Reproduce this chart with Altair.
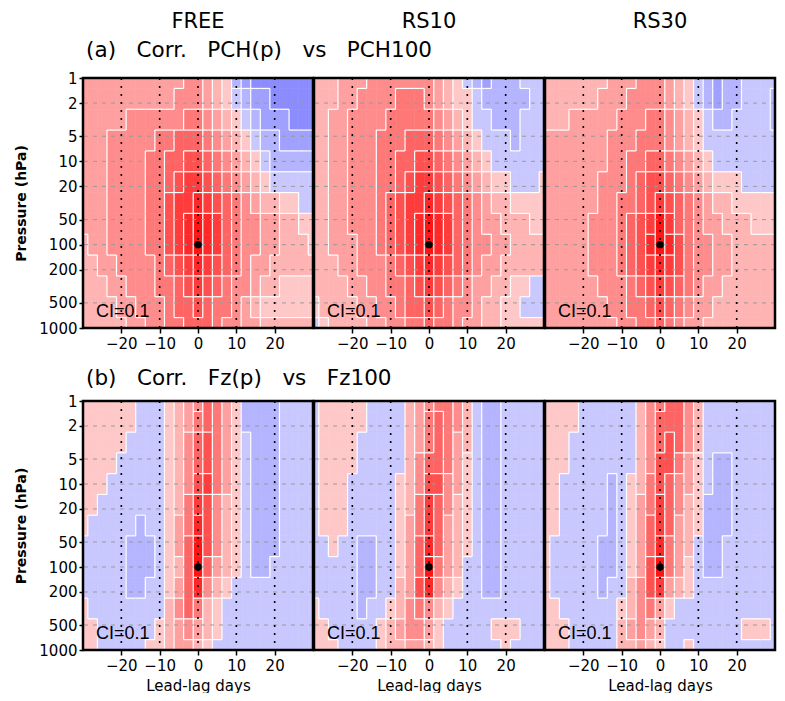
import math
import altair as alt
import pandas as pd

# ---------------- grid definition (cell centres) ----------------
LAG_CENTERS = [-30, -27.5, -25, -22.5, -20, -17.5, -15, -12.5, -10, -7.5, -5, -2.5, 0,
               2.5, 5, 7.5, 10, 12.5, 15, 17.5, 20, 22.5, 25, 27.5, 30]
P_CENTERS = [1, 1.78, 3.16, 5.62, 10, 17.8, 31.6, 56.2, 100, 178, 316, 562, 1000]

GAP = "\u00a0" * 3
PANEL_NAMES = ["FREE", "RS10", "RS30"]
ROW_TITLES = [GAP.join(["(a)", "Corr.", "PCH(p)", "vs", "PCH100"]),
              GAP.join(["(b)", "Corr.", "Fz(p)", "vs", "Fz100"])]
LAG_LINES = [-20, -10, 0, 10, 20]
P_LINES = [2, 5, 10, 20, 50, 100, 200, 500]
P_TICKS = [1, 2, 5, 10, 20, 50, 100, 200, 500, 1000]
REF_LAG = [0]
REF_P = [100]
CI_LAG = [-26.6]
CI_P = [740]
CI_TEXT = ["CI=0.1"]
FRAME = {"x0": [-30], "x1": [30], "y0": [1], "y1": [1000]}
# annotation anchors, in data units (lag, hPa); pressures < 1 sit above the panel
NAME_POS = (0, 0.251)
ROW_TITLE_POS = [(-29.2, 0.56), (-29.2, 0.641)]

# contour band of the correlation (tenths): 3 -> 0.3..0.4, -1 -> -0.1..0
BAND_LEVELS = [-4, -3, -2, -1, 0, 1, 2, 3, 4, 5, 6, 7, 8, 9]
BAND_COLORS = ["#8c8cff", "#a0a0ff", "#b4b4ff", "#c8c8ff",
               "#ffc8c8", "#ffb4b4", "#ffa0a0", "#ff8c8c", "#ff7878",
               "#ff6464", "#ff5050", "#ff3c3c", "#ff2828", "#ff1414"]

A_FREE = [
    [2, 2, 2, 2, 2, 2, 2, 2, 2, 2, 2, 3, 3, 2, 1, 0, -2, -3, -4, -4, -4, -4, -4, -4, -4],
    [2, 2, 2, 2, 2, 2, 2, 2, 2, 2, 3, 3, 3, 2, 1, 0, -1, -2, -3, -3, -4, -4, -4, -4, -4],
    [2, 2, 2, 2, 2, 3, 3, 3, 3, 3, 3, 4, 4, 3, 2, 1, 0, -1, -2, -3, -3, -3, -4, -4, -4],
    [2, 2, 2, 3, 3, 3, 3, 3, 4, 4, 5, 5, 5, 4, 3, 2, 1, 0, -1, -2, -2, -3, -3, -3, -3],
    [2, 2, 2, 3, 3, 3, 3, 4, 4, 5, 5, 6, 6, 5, 4, 3, 2, 1, 0, -1, -2, -2, -2, -2, -2],
    [2, 2, 2, 3, 3, 3, 3, 4, 4, 5, 6, 7, 7, 6, 5, 4, 3, 2, 1, 0, -1, -1, -1, -1, -1],
    [2, 2, 2, 3, 3, 3, 3, 4, 4, 6, 7, 7, 8, 7, 6, 5, 4, 3, 2, 1, 1, 0, 0, -1, -1],
    [2, 2, 2, 3, 3, 3, 3, 4, 4, 6, 7, 8, 9, 8, 7, 5, 4, 3, 3, 2, 2, 1, 1, 0, 0],
    [1, 2, 2, 3, 3, 3, 3, 4, 4, 6, 7, 8, 9, 8, 7, 5, 4, 3, 3, 2, 2, 1, 1, 1, 0],
    [1, 1, 2, 2, 3, 3, 3, 3, 4, 5, 6, 7, 8, 7, 6, 5, 4, 3, 2, 2, 1, 1, 1, 1, 1],
    [1, 1, 1, 2, 2, 3, 3, 3, 4, 4, 5, 6, 7, 6, 5, 4, 3, 3, 2, 1, 1, 0, 0, 0, 0],
    [1, 1, 1, 1, 2, 2, 3, 3, 3, 4, 5, 5, 6, 5, 4, 4, 3, 2, 1, 0, 0, 0, 0, 0, 0],
    [1, 1, 1, 1, 1, 2, 2, 3, 3, 4, 4, 5, 5, 5, 4, 3, 3, 2, 2, 1, 1, 1, 1, 1, 1],
]
A_RS10 = [
    [1, 1, 1, 2, 2, 2, 3, 3, 3, 3, 3, 3, 3, 2, 1, 0, -1, -2, -3, -2, -2, -2, -1, -1, -1],
    [1, 1, 1, 2, 2, 3, 3, 3, 3, 4, 4, 4, 3, 2, 1, 0, 0, -1, -2, -2, -2, -2, -2, -1, -1],
    [1, 1, 2, 2, 3, 3, 3, 3, 4, 4, 4, 4, 4, 3, 2, 1, 0, -1, -1, -2, -2, -2, -1, -1, -1],
    [1, 1, 2, 2, 3, 3, 3, 4, 4, 4, 5, 5, 5, 4, 3, 2, 1, 0, -1, -1, -1, -2, -1, -1, -1],
    [1, 1, 2, 2, 3, 3, 3, 4, 4, 5, 5, 6, 6, 5, 4, 3, 2, 1, 0, -1, -1, -1, -1, -1, -1],
    [1, 1, 2, 2, 3, 3, 3, 4, 4, 5, 6, 7, 7, 6, 5, 4, 3, 2, 1, 0, 0, -1, -1, -1, 0],
    [1, 1, 2, 2, 3, 3, 3, 4, 5, 6, 7, 7, 8, 7, 6, 5, 4, 3, 2, 1, 1, 0, 0, 0, 0],
    [1, 1, 2, 2, 3, 3, 3, 4, 5, 6, 7, 8, 9, 8, 7, 5, 4, 3, 2, 2, 1, 1, 1, 0, 0],
    [1, 1, 2, 2, 2, 3, 3, 4, 5, 6, 7, 8, 9, 8, 7, 5, 4, 3, 3, 2, 2, 1, 1, 1, 1],
    [1, 1, 1, 2, 2, 3, 3, 3, 4, 5, 6, 7, 8, 7, 6, 5, 4, 3, 2, 2, 1, 1, 1, 1, 1],
    [1, 1, 1, 1, 2, 2, 3, 3, 4, 4, 5, 6, 7, 6, 5, 4, 3, 2, 2, 1, 1, 0, 0, -1, -1],
    [0, 1, 1, 1, 1, 2, 2, 3, 3, 4, 5, 5, 6, 5, 4, 3, 3, 2, 1, 1, 0, 0, -1, -1, -1],
    [-1, 0, 1, 1, 1, 1, 2, 2, 3, 3, 4, 4, 5, 4, 4, 3, 2, 2, 1, 1, 0, 0, 0, 0, 0],
]
A_RS30 = [
    [1, 1, 1, 1, 1, 1, 1, 2, 2, 2, 3, 3, 3, 2, 1, 0, -1, -2, -3, -2, -2, -1, -1, -1, -1],
    [1, 1, 1, 1, 1, 1, 2, 2, 2, 3, 3, 3, 3, 2, 1, 0, -1, -2, -3, -2, -2, -1, -1, -1, -2],
    [1, 1, 1, 2, 2, 2, 2, 2, 3, 3, 3, 4, 4, 3, 2, 1, 0, -1, -2, -2, -1, -1, -1, -1, -2],
    [2, 2, 2, 2, 2, 2, 2, 3, 3, 3, 4, 4, 4, 3, 2, 1, 0, -1, -1, -1, -1, -1, -1, -1, -1],
    [2, 2, 2, 2, 2, 2, 2, 3, 3, 4, 4, 5, 5, 4, 3, 2, 1, 0, -1, -1, -1, -1, -1, -1, -1],
    [2, 2, 2, 2, 2, 2, 3, 3, 3, 4, 5, 6, 6, 5, 4, 3, 2, 1, 0, 0, 0, -1, -1, -1, -1],
    [2, 2, 2, 2, 2, 2, 3, 3, 4, 4, 5, 6, 7, 6, 5, 4, 3, 2, 1, 1, 0, 0, 0, 0, 0],
    [2, 2, 2, 2, 2, 3, 3, 3, 4, 5, 6, 7, 9, 7, 5, 4, 3, 2, 2, 1, 1, 1, 0, 0, 0],
    [2, 2, 2, 2, 2, 3, 3, 3, 4, 5, 6, 8, 9, 8, 6, 4, 3, 3, 2, 2, 1, 1, 1, 1, 1],
    [2, 2, 2, 2, 2, 3, 3, 3, 4, 5, 6, 7, 8, 7, 6, 4, 3, 3, 2, 2, 1, 1, 1, 1, 1],
    [2, 2, 2, 2, 2, 2, 3, 3, 3, 4, 5, 6, 7, 6, 5, 4, 3, 2, 2, 1, 1, 1, 1, 1, 1],
    [2, 2, 2, 2, 2, 2, 2, 3, 3, 4, 4, 5, 6, 5, 4, 3, 2, 2, 1, 1, 1, 1, 1, 1, 1],
    [2, 2, 2, 2, 2, 2, 2, 2, 3, 3, 4, 4, 5, 4, 3, 2, 2, 1, 1, 1, 1, 1, 1, 1, 1],
]
B_FREE = [
    [0, 0, 0, 0, 0, 0, -1, -1, -1, 0, 1, 2, 3, 5, 4, 2, 0, -2, -2, -2, -2, -1, -1, -1, -1],
    [0, 0, 0, 0, 0, 0, -1, -1, -1, 0, 1, 2, 4, 5, 4, 2, 0, -2, -2, -2, -2, -1, -1, -1, -1],
    [0, 0, 0, 0, 0, -1, -1, -1, -1, 0, 1, 3, 5, 6, 4, 2, 0, -1, -2, -2, -2, -1, -1, -1, -1],
    [0, 0, 0, 0, -1, -1, -1, -1, -1, 0, 1, 3, 5, 6, 4, 2, 0, -1, -2, -2, -2, -1, -1, -1, -1],
    [0, 0, 0, -1, -1, -1, -1, -1, -1, 0, 1, 3, 6, 7, 4, 2, 0, -1, -2, -2, -2, -1, -1, -1, -1],
    [0, 0, -1, -1, -1, -1, -1, -1, -1, 0, 1, 4, 7, 6, 3, 1, 0, -1, -2, -2, -2, -1, -1, -1, -1],
    [0, -1, -1, -1, -1, -1, -2, -1, -1, 0, 2, 4, 8, 6, 3, 1, 0, -1, -2, -2, -2, -1, -1, -1, -1],
    [-1, -1, -1, -1, -1, -2, -2, -2, -1, 0, 2, 5, 9, 6, 3, 1, 0, -1, -2, -2, -2, -1, -1, -1, -1],
    [-1, -1, -1, -1, -1, -2, -2, -2, -1, 0, 1, 5, 9, 5, 2, 1, 0, -1, -2, -2, -1, -1, -1, -1, -1],
    [-1, -1, -1, -1, -1, -2, -2, -1, -1, 0, 2, 5, 8, 3, 1, 0, -1, -1, -1, -1, -1, -1, -1, -1, -1],
    [0, -1, -1, -1, -1, -1, -1, -1, -1, 1, 3, 5, 4, 1, 0, -1, -1, -1, -1, -1, -1, -1, -1, -1, -1],
    [0, 0, -1, -1, -1, -1, -1, -1, 0, 1, 2, 3, 2, 1, 0, -1, -1, -1, -1, -1, -1, -1, -1, -1, -1],
    [0, 0, -1, -1, -1, -1, -1, 0, 0, 1, 2, 2, 1, 0, -1, -1, -1, -1, -1, -1, -1, -1, -1, -1, -1],
]
B_RS10 = [
    [-1, 0, 0, 0, 0, 0, -1, -1, -1, -1, 1, 2, 3, 4, 4, 3, 1, -1, -2, -2, -1, -1, -1, -1, -1],
    [-1, 0, 0, 0, 0, 0, -1, -1, -1, -1, 1, 2, 4, 5, 4, 3, 1, -1, -2, -2, -1, -1, -1, -1, -1],
    [-1, 0, 0, 0, 0, -1, -1, -1, -1, -1, 1, 2, 4, 5, 4, 2, 1, -1, -2, -2, -1, -1, -1, -1, -1],
    [-1, 0, 0, 0, 0, -1, -1, -1, -1, -1, 1, 3, 5, 5, 4, 2, 0, -1, -2, -2, -1, -1, -1, -1, -1],
    [-1, 0, 0, 0, -1, -1, -1, -1, -1, 0, 1, 3, 6, 6, 3, 2, 0, -1, -2, -2, -1, -1, -1, -1, -1],
    [-1, 0, 0, 0, -1, -1, -1, -1, -1, 0, 1, 4, 7, 5, 3, 1, 0, -1, -2, -2, -1, -1, -1, -1, -1],
    [-1, 0, 0, 0, -1, -1, -1, -1, -1, 0, 2, 4, 7, 5, 2, 1, 0, -1, -2, -2, -1, -1, -1, -1, -1],
    [-1, -1, 0, -1, -1, -2, -2, -1, -1, 0, 2, 5, 8, 5, 2, 1, 0, -1, -2, -2, -1, -1, -1, -1, -1],
    [-1, -1, -1, -1, -1, -2, -2, -1, -1, 0, 2, 5, 9, 4, 2, 1, -1, -1, -2, -2, -1, -1, -1, -1, -1],
    [-1, -1, -1, -1, -1, -2, -2, -1, -1, 1, 2, 6, 8, 3, 1, 0, -1, -1, -2, -2, -1, -1, -1, -1, -1],
    [0, -1, -1, -1, -1, -2, -1, -1, 0, 1, 3, 4, 3, 1, 0, -1, -1, -1, -1, -1, -1, -1, -1, -1, -1],
    [0, 0, -1, -1, -1, -1, -1, 0, 1, 2, 3, 3, 2, 0, -1, -1, -1, -1, -1, 0, 0, 0, -1, -1, -1],
    [0, 0, 0, -1, -1, -1, -1, 0, 1, 1, 2, 2, 1, 0, -1, -1, -1, -1, -1, -1, 0, -1, -1, -1, -1],
]
B_RS30 = [
    [0, 0, 0, 0, -1, -1, -1, -1, -1, -1, 1, 3, 4, 5, 5, 3, 1, -1, -1, -1, -1, -1, -1, -1, -1],
    [0, 0, 0, 0, -1, -1, -1, -1, -1, -1, 1, 3, 5, 5, 5, 3, 1, -1, -1, -1, -1, -1, -1, -1, -1],
    [0, 0, 0, -1, -1, -1, -1, -1, -1, -1, 1, 3, 5, 6, 5, 3, 1, -1, -1, -1, -1, -1, -1, -1, -1],
    [0, 0, 0, -1, -1, -1, -1, -1, -1, -1, 1, 3, 6, 6, 4, 2, 0, -1, -2, -2, -1, -1, -1, -1, -1],
    [0, 0, -1, -1, -1, -1, -1, -2, -1, 0, 1, 4, 6, 5, 3, 2, 0, -1, -2, -2, -1, -1, -1, -1, -1],
    [0, 0, -1, -1, -1, -1, -1, -2, -1, 0, 2, 4, 7, 5, 3, 1, 0, -2, -2, -2, -1, -1, -1, -1, -1],
    [0, 0, -1, -1, -1, -1, -1, -2, -1, 0, 2, 5, 7, 5, 2, 1, 0, -2, -2, -2, -1, -1, -1, -1, -1],
    [0, -1, -1, -1, -1, -1, -2, -2, -1, 0, 2, 5, 8, 4, 2, 1, -1, -2, -2, -1, -1, -1, -1, -1, -1],
    [0, -1, -1, -1, -1, -1, -2, -2, -1, 0, 2, 6, 9, 4, 2, 0, -1, -2, -2, -1, -1, -1, -1, -1, -1],
    [0, -1, -1, -1, -1, -1, -2, -1, -1, 1, 3, 6, 7, 2, 1, 0, -1, -1, -1, -1, -1, -1, -1, -1, -1],
    [0, 0, -1, -1, -1, -1, -1, -1, 0, 1, 3, 4, 2, 0, -1, -1, -1, -1, -1, -1, -1, -1, -1, -1, -1],
    [0, 0, 0, -1, -1, -1, -1, -1, 1, 2, 3, 2, 1, -1, -1, -1, -1, -1, -1, -1, -1, 0, 0, 0, -1],
    [0, 0, 0, -1, -1, -1, -1, -1, 1, 1, 2, 1, 0, -1, -1, 0, -1, -1, -1, -1, -1, -1, -1, -1, -1],
]
GRIDS = [[A_FREE, A_RS10, A_RS30], [B_FREE, B_RS10, B_RS30]]

# ---------------- cell edges ----------------
LAG_EDGES = [-30] + [(a + b) / 2 for a, b in zip(LAG_CENTERS[:-1], LAG_CENTERS[1:])] + [30]
P_EDGES = [1] + [math.sqrt(a * b) for a, b in zip(P_CENTERS[:-1], P_CENTERS[1:])] + [1000]
NR, NC = len(P_CENTERS), len(LAG_CENTERS)
for rowg in GRIDS:
    for g in rowg:
        assert len(g) == NR and all(len(r) == NC for r in g), "grid size"


def cell_frame(grid):
    recs = []
    for i in range(NR):
        for j in range(NC):
            recs.append({"x0": LAG_EDGES[j], "x1": LAG_EDGES[j + 1],
                         "y0": P_EDGES[i], "y1": P_EDGES[i + 1], "band": grid[i][j]})
    return pd.DataFrame(recs)


def contour_frame(grid):
    segs = []
    for i in range(NR):
        for j in range(NC - 1):
            if grid[i][j] != grid[i][j + 1]:
                x = LAG_EDGES[j + 1]
                segs.append({"x0": x, "x1": x, "y0": P_EDGES[i], "y1": P_EDGES[i + 1]})
    for i in range(NR - 1):
        for j in range(NC):
            if grid[i][j] != grid[i + 1][j]:
                y = P_EDGES[i + 1]
                segs.append({"x0": LAG_EDGES[j], "x1": LAG_EDGES[j + 1], "y0": y, "y1": y})
    return pd.DataFrame(segs)


FONT = "DejaVu Sans"
XS = alt.Scale(domain=[-30, 30], nice=False, zero=False)
YS = alt.Scale(type="log", domain=[1, 1000], reverse=True, nice=False)
CS = alt.Scale(domain=BAND_LEVELS, range=BAND_COLORS)
W = 230
HEIGHTS = [250, 249]


def panel(row, col):
    grid = GRIDS[row][col]
    first = col == 0
    bottom = row == 1
    x_axis = alt.Axis(values=LAG_LINES, format="d", orient="bottom",
                      title="Lead-lag days" if bottom else None,
                      labelFontSize=15, titleFontSize=15, titleFontWeight="normal",
                      titlePadding=5, labelPadding=3,
                      tickSize=5, tickWidth=1.5, grid=False, domain=False)
    if first:
        y_axis = alt.Axis(values=P_TICKS, format="d", orient="left", title="Pressure (hPa)",
                          titleFontSize=14, titleFontWeight="bold", titlePadding=10,
                          labelFontSize=15, labelPadding=2, tickSize=4, tickWidth=1.5,
                          grid=False, domain=False)
    else:
        y_axis = None

    def X(f="x0"):
        return alt.X(f + ":Q", scale=XS, axis=x_axis)

    def Y(f="y0"):
        return alt.Y(f + ":Q", scale=YS, axis=y_axis)

    cells = alt.Chart(cell_frame(grid)).mark_rect(strokeWidth=0.6).encode(
        x=X(), x2="x1:Q", y=Y(), y2="y1:Q",
        color=alt.Color("band:O", scale=CS, legend=None),
        stroke=alt.Stroke("band:O", scale=CS, legend=None),
    )
    contours = alt.Chart(contour_frame(grid)).mark_rule(color="white", strokeWidth=1.2).encode(
        x=X(), x2="x1:Q", y=Y(), y2="y1:Q")
    hlines = alt.Chart(pd.DataFrame({"y0": P_LINES})).mark_rule(
        color="#9a9a9a", strokeWidth=1, strokeDash=[4, 5]).encode(y=Y())
    vlines = alt.Chart(pd.DataFrame({"x0": LAG_LINES})).mark_rule(
        color="black", strokeWidth=1.6, strokeDash=[2, 6]).encode(x=X())
    dot = alt.Chart(pd.DataFrame({"x0": REF_LAG, "y0": REF_P})).mark_circle(
        size=55, color="black", opacity=1).encode(x=X(), y=Y())
    ci = alt.Chart(pd.DataFrame({"x0": CI_LAG, "y0": CI_P, "t": CI_TEXT})).mark_text(
        align="left", baseline="alphabetic", fontSize=18, font="Liberation Sans",
        color="black").encode(x=X(), y=Y(), text="t:N")
    frame = alt.Chart(pd.DataFrame(FRAME)).mark_rect(
        filled=False, stroke="black", strokeWidth=2.5, fill=None).encode(
        x=X(), x2="x1:Q", y=Y(), y2="y1:Q")

    layers = [cells, contours, hlines, vlines, dot, ci, frame]
    if row == 0:
        names = alt.Chart(pd.DataFrame({"x0": [NAME_POS[0]], "y0": [NAME_POS[1]],
                                        "t": [PANEL_NAMES[col]]})).mark_text(
            align="center", baseline="alphabetic", fontSize=21, font=FONT,
            color="black").encode(x=X(), y=Y(), text="t:N")
        layers.append(names)
    if first:
        rt = alt.Chart(pd.DataFrame({"x0": [ROW_TITLE_POS[row][0]], "y0": [ROW_TITLE_POS[row][1]],
                                     "t": [ROW_TITLES[row]]})).mark_text(
            align="left", baseline="alphabetic", fontSize=21.5, font=FONT,
            color="black").encode(x=X(), y=Y(), text="t:N")
        layers.append(rt)

    return alt.layer(*layers).properties(width=W, height=HEIGHTS[row])


row_a = alt.hconcat(*[panel(0, c) for c in range(3)], spacing=1, bounds="flush")
row_b = alt.hconcat(*[panel(1, c) for c in range(3)], spacing=1, bounds="flush")

chart = alt.vconcat(row_a, row_b, spacing=16).properties(
    padding={"left": 6, "top": 2, "right": 0, "bottom": 0}
).configure_view(
    stroke=None
).configure_axis(
    labelFont=FONT, titleFont=FONT, labelColor="black", titleColor="black",
    tickColor="black"
)

chart.save("out.html", embed_options={"renderer": "svg", "actions": False})
